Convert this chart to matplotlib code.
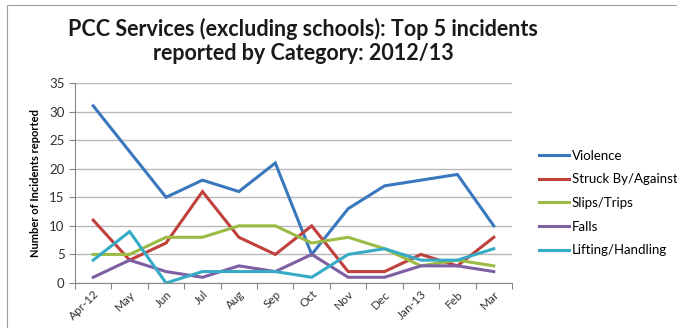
import matplotlib
matplotlib.use("Agg")
import matplotlib.pyplot as plt
from matplotlib.patches import Rectangle
import numpy as np

plt.rcParams['font.family'] = ['Lato', 'DejaVu Sans']

months = ["Apr-12", "May", "Jun", "Jul", "Aug", "Sep", "Oct", "Nov", "Dec", "Jan-13", "Feb", "Mar"]
violence = [31, 23, 15, 18, 16, 21, 5, 13, 17, 18, 19, 10]
struck = [11, 4, 7, 16, 8, 5, 10, 2, 2, 5, 3, 8]
slips = [5, 5, 8, 8, 10, 10, 7, 8, 6, 3, 4, 3]
falls = [1, 4, 2, 1, 3, 2, 5, 1, 1, 3, 3, 2]
lifting = [4, 9, 0, 2, 2, 2, 1, 5, 6, 4, 4, 6]

series = [
    ("Violence", violence, "#3a78be"),
    ("Struck By/Against", struck, "#c0403b"),
    ("Slips/Trips", slips, "#9bbb45"),
    ("Falls", falls, "#7e5fa3"),
    ("Lifting/Handling", lifting, "#35abc6"),
]

fig = plt.figure(figsize=(6.77, 3.28), dpi=100)
fig.patches.append(Rectangle((0.011, -0.01), 1.2, 0.995, transform=fig.transFigure,
                             fill=False, edgecolor="#a0a0a0", linewidth=0.8))

ax = fig.add_axes([75 / 677, 1 - 283 / 328, (512 - 75) / 677, (283 - 83) / 328])
x = np.arange(len(months))
for name, vals, color in series:
    ax.plot(x, vals, color=color, linewidth=2.2, label=name, solid_joinstyle="miter")

ax.set_ylim(0, 35)
ax.set_yticks(range(0, 36, 5))
ax.set_xlim(-0.5, len(months) - 0.5)
ax.set_xticks(x)
ax.set_xticklabels(months, rotation=45, ha="right", rotation_mode="anchor", fontsize=8.5,
                   color="#333333")
ax.set_xticks(np.arange(-0.5, len(months), 1), minor=True)
ax.tick_params(axis="x", which="major", length=0, pad=4)
ax.tick_params(axis="x", which="minor", length=4, color="#888888", width=0.8)
ax.tick_params(axis="y", length=4, color="#888888", width=0.8, labelsize=9.5,
               labelcolor="#333333")
ax.yaxis.grid(True, color="#b8b8b8", linewidth=1.0)
ax.set_axisbelow(True)
for s in ["top", "right"]:
    ax.spines[s].set_visible(False)
for s in ["left", "bottom"]:
    ax.spines[s].set_color("#888888")
    ax.spines[s].set_linewidth(0.8)

ax.set_ylabel("Number of Incidents reported", fontsize=8, fontweight="bold", labelpad=6)

fig.text(303 / 677, 1 - 29 / 328, "PCC Services (excluding schools): Top 5 incidents",
         ha="center", va="center", fontsize=15.5, fontweight="bold", color="#1a1a1a")
fig.text(303 / 677, 1 - 54 / 328, "reported by Category: 2012/13",
         ha="center", va="center", fontsize=15.5, fontweight="bold", color="#1a1a1a")

fig.legend(loc="center left", bbox_to_anchor=(527 / 677, 1 - 203 / 328), frameon=False,
           fontsize=9.5, handlelength=2.3, handletextpad=0.2, labelspacing=0.88)

fig.savefig("out.png", dpi=100)
